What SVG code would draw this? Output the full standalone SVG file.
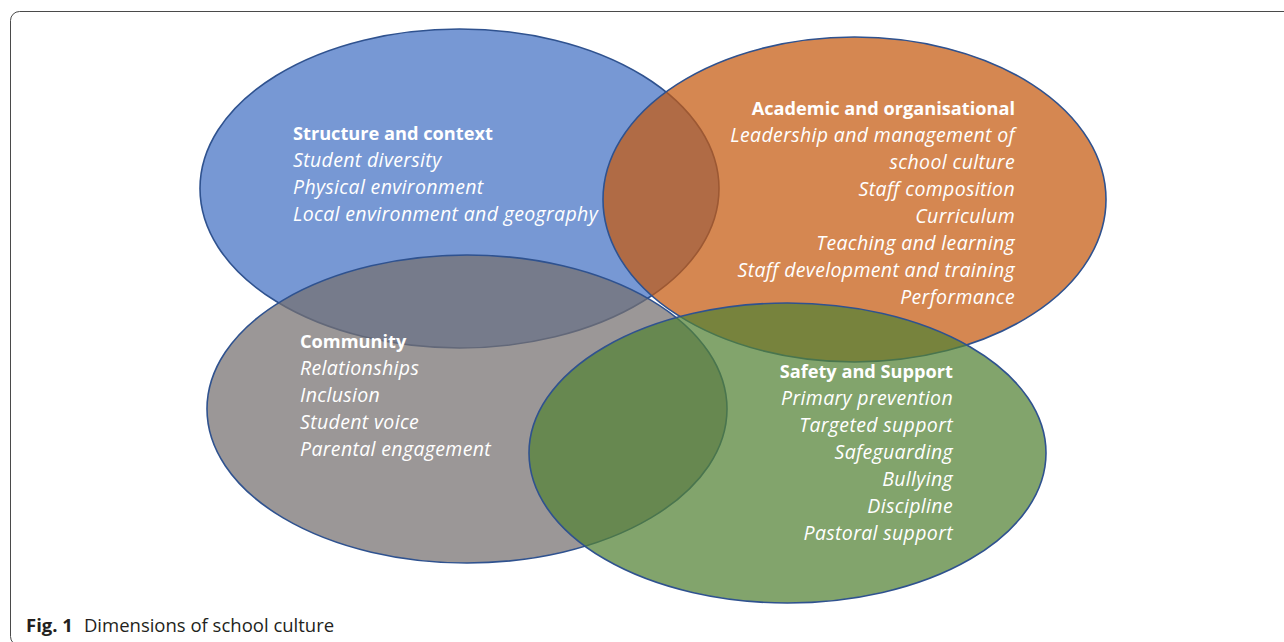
<svg xmlns="http://www.w3.org/2000/svg" width="1284" height="642" viewBox="0 0 1284 642">
<style>
.frame{fill:none;stroke:#4a4a4a;stroke-width:1}
.ell{stroke:#2F528F;stroke-width:1.6;fill-opacity:0.73}
.t{font-family:"Open Sans","Noto Sans","Liberation Sans",sans-serif;fill:#ffffff}
.h{font-weight:700;font-style:normal;font-size:18.2px}
.i{font-style:italic;font-size:19.5px;letter-spacing:0.35px}
.r{text-anchor:end}
.cap{font-family:"Open Sans","Noto Sans","Liberation Sans",sans-serif;font-size:18.5px;fill:#231f20}
</style>
<rect width="1284" height="642" fill="#ffffff"/>
<rect class="frame" x="10.5" y="11.5" width="1300" height="634" rx="9"/>
<g id="structure">
<ellipse class="ell" cx="459.5" cy="188.5" rx="259.5" ry="159.5" fill="#4472C4"/>
</g>
<g id="academic">
<ellipse class="ell" cx="854.5" cy="199.5" rx="251.5" ry="162.5" fill="#C55A11"/>
</g>
<g id="community">
<ellipse class="ell" cx="467" cy="409" rx="260" ry="154" fill="#767171"/>
</g>
<g id="safety">
<ellipse class="ell" cx="787.5" cy="453" rx="258.5" ry="150" fill="#548235"/>
</g>
<g id="labels">
<text class="t"><tspan class="h" x="293" y="140">Structure and context</tspan><tspan class="i" x="293" y="167">Student diversity</tspan><tspan class="i" x="293" y="194">Physical environment</tspan><tspan class="i" x="293" y="221">Local environment and geography</tspan></text>
<text class="t r"><tspan class="h" x="1015" y="115">Academic and organisational</tspan><tspan class="i" x="1015" y="142">Leadership and management of</tspan><tspan class="i" x="1015" y="169">school culture</tspan><tspan class="i" x="1015" y="196">Staff composition</tspan><tspan class="i" x="1015" y="223">Curriculum</tspan><tspan class="i" x="1015" y="250">Teaching and learning</tspan><tspan class="i" x="1015" y="277">Staff development and training</tspan><tspan class="i" x="1015" y="304">Performance</tspan></text>
<text class="t"><tspan class="h" x="300" y="348">Community</tspan><tspan class="i" x="300" y="375">Relationships</tspan><tspan class="i" x="300" y="402">Inclusion</tspan><tspan class="i" x="300" y="429">Student voice</tspan><tspan class="i" x="300" y="456">Parental engagement</tspan></text>
<text class="t r"><tspan class="h" x="953" y="378">Safety and Support</tspan><tspan class="i" x="953" y="405">Primary prevention</tspan><tspan class="i" x="953" y="432">Targeted support</tspan><tspan class="i" x="953" y="459">Safeguarding</tspan><tspan class="i" x="953" y="486">Bullying</tspan><tspan class="i" x="953" y="513">Discipline</tspan><tspan class="i" x="953" y="540">Pastoral support</tspan></text>
</g>
<text class="cap" x="26" y="632"><tspan font-weight="700">Fig. 1</tspan><tspan dx="11">Dimensions of school culture</tspan></text>
</svg>
